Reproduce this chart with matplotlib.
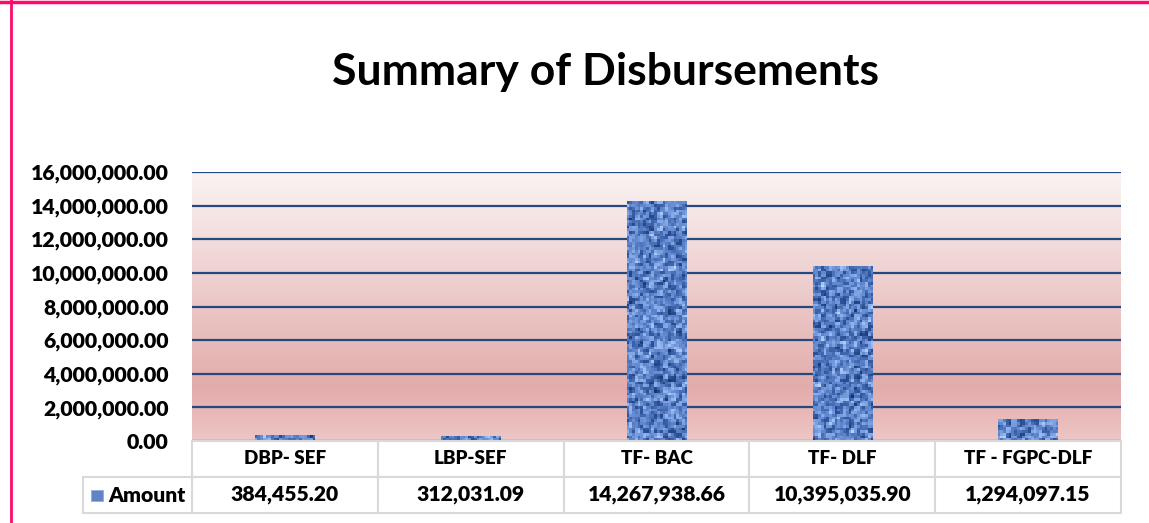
import numpy as np
import matplotlib
matplotlib.use("Agg")
import matplotlib.pyplot as plt
from matplotlib.patches import Rectangle
from matplotlib.transforms import blended_transform_factory
from matplotlib.colors import LinearSegmentedColormap
from matplotlib.ticker import FuncFormatter, MultipleLocator

# ---------------- data ----------------
categories = ["DBP- SEF", "LBP-SEF", "TF- BAC", "TF- DLF", "TF - FGPC-DLF"]
amounts = [384455.20, 312031.09, 14267938.66, 10395035.90, 1294097.15]
series_name = "Amount"
y_max = 16000000
y_step = 2000000

plt.rcParams['font.family'] = ['Lato', 'DejaVu Sans']
WEIGHT = "heavy"

W, H = 1149, 523
fig = plt.figure(figsize=(W / 100, H / 100), dpi=100)
fig.patch.set_facecolor("white")

def fx(px):
    return px / W

def fy(py):
    return 1 - py / H

ax = fig.add_axes([fx(192), fy(441), fx(1121) - fx(192), fy(172) - fy(441)])
ax.set_xlim(-0.5, len(categories) - 0.5)
ax.set_ylim(0, y_max)

# gradient background
grad_cmap = LinearSegmentedColormap.from_list(
    "bg", [(0.0, (237/255, 198/255, 197/255)),
           (0.2, (226/255, 172/255, 171/255)),
           (1.0, (250/255, 243/255, 243/255))])
g = np.linspace(0, 1, 256).reshape(-1, 1)
ax.imshow(g, extent=[-0.5, len(categories) - 0.5, 0, y_max], aspect="auto",
          origin="lower", cmap=grad_cmap, zorder=0)

# grid lines
ax.yaxis.set_major_locator(MultipleLocator(y_step))
ax.grid(axis="y", color="#25487e", lw=1.6, zorder=2)
ax.set_axisbelow(False)

# bars with woven texture
x = np.arange(len(categories))
bars = ax.bar(x, amounts, width=0.32, color="#5b7fc2", zorder=3, linewidth=0)

ii, jj = np.mgrid[0:100, 0:340]
h = (((ii * 73856093) ^ (jj * 19349663) ^ ((ii * jj) * 83492791)) % 1009) / 1008.0
hs = (2 * h + np.roll(h, 1, 0) + np.roll(h, 1, 1)) / 4.0
weave = 0.5 + 0.2 * np.sign(np.sin(ii * 1.3 + 0.3)) * np.sign(np.sin(jj * 1.3 + 0.3))
tex = 0.65 * hs + 0.35 * weave
tex = (tex - tex.min()) / (tex.max() - tex.min())
tex_cmap = LinearSegmentedColormap.from_list(
    "tex", ["#18326a", "#30549a", "#5a82c9", "#88abe8", "#bcd6fc"])
for b in bars:
    im = ax.imshow(tex, extent=[-0.5, len(categories) - 0.5, 0, y_max], aspect="auto",
                   cmap=tex_cmap, zorder=4, interpolation="nearest")
    im.set_clip_path(b)

ax.set_xlim(-0.5, len(categories) - 0.5)
ax.set_ylim(0, y_max)
for s in ax.spines.values():
    s.set_visible(False)
ax.set_xticks([])
ax.tick_params(axis="y", length=0, pad=17, labelsize=15.3)
ax.yaxis.set_major_formatter(FuncFormatter(lambda v, p: f"{v:,.2f}"))
for lab in ax.get_yticklabels():
    lab.set_fontweight(WEIGHT)

# title
fig.text(fx(606), fy(72), "Summary of Disbursements", ha="center", va="center",
         fontsize=32, fontweight="bold", color="black")

# ---------------- data table ----------------
tr = blended_transform_factory(ax.transData, fig.transFigure)
grid_col = "#d9d9d9"
row1_top, row1_bot = fy(441), fy(477)
row2_top, row2_bot = fy(477), fy(513)
for i, (c, v) in enumerate(zip(categories, amounts)):
    fig.add_artist(Rectangle((i - 0.5, row1_bot), 1, row1_top - row1_bot, transform=tr,
                             facecolor="white", edgecolor=grid_col, lw=1.5, zorder=5))
    fig.add_artist(Rectangle((i - 0.5, row2_bot), 1, row2_top - row2_bot, transform=tr,
                             facecolor="white", edgecolor=grid_col, lw=1.5, zorder=5))
    fig.text(i, (row1_top + row1_bot) / 2, c, transform=tr, ha="center", va="center",
             fontsize=13.5, fontweight=WEIGHT, zorder=6)
    fig.text(i, (row2_top + row2_bot) / 2, f"{v:,.2f}", transform=tr, ha="center",
             va="center", fontsize=15.2, fontweight=WEIGHT, zorder=6)
# series header cell
fig.add_artist(Rectangle((fx(83), row2_bot), fx(192) - fx(83), row2_top - row2_bot,
                         transform=fig.transFigure, facecolor="white",
                         edgecolor=grid_col, lw=1.5, zorder=5))
fig.add_artist(Rectangle((fx(91), fy(501)), fx(12), fy(490) - fy(501),
                         transform=fig.transFigure, facecolor="#5f84c6",
                         edgecolor="#8eaee0", lw=0.6, zorder=6))
fig.text(fx(108), (row2_top + row2_bot) / 2, series_name, ha="left", va="center",
         fontsize=15.2, fontweight=WEIGHT, zorder=6)

# outer chart border (pink)
fig.add_artist(plt.Line2D([fx(11), fx(11)], [0, 1], color="#ff0a6c", lw=2.0,
                          transform=fig.transFigure))
fig.add_artist(plt.Line2D([0, 1], [fy(2), fy(2)], color="#ff0a6c", lw=2.5,
                          transform=fig.transFigure))

fig.savefig("out.png", dpi=100, facecolor="white")
